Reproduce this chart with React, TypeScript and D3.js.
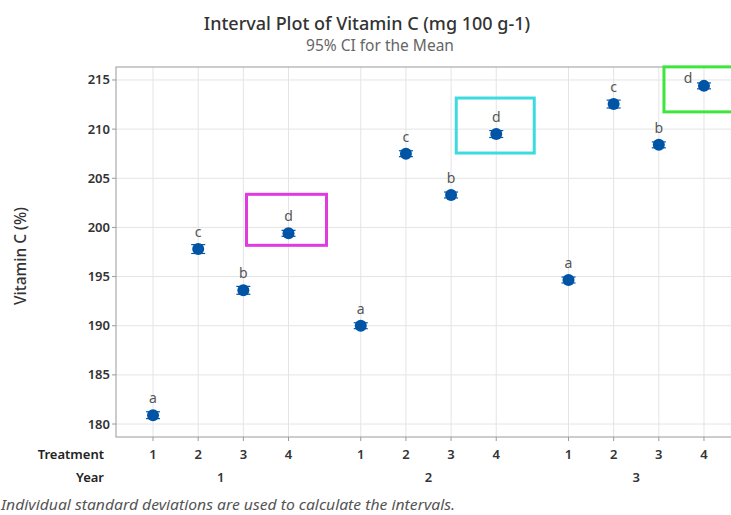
import React from "react";
import * as d3 from "d3";

const years = ["1", "2", "3"];
const treatments = ["1", "2", "3", "4"];
const means = [
  [180.9, 197.8, 193.6, 199.4],
  [190.0, 207.5, 203.3, 209.5],
  [194.65, 212.55, 208.4, 214.4],
];
const ciHalf = [
  [0.35, 0.45, 0.4, 0.3],
  [0.3, 0.3, 0.3, 0.35],
  [0.3, 0.4, 0.3, 0.3],
];
const letters = [
  ["a", "c", "b", "d"],
  ["a", "c", "b", "d"],
  ["a", "c", "b", "d"],
];
const yTicks = [180, 185, 190, 195, 200, 205, 210, 215];

const highlights = [
  { g: 0, t: 3, color: "#e03be0", dx0: -42, dx1: 38, dy0: -39, dy1: 12 },
  { g: 1, t: 3, color: "#3ddbe0", dx0: -40, dx1: 38, dy0: -36, dy1: 19 },
  { g: 2, t: 3, color: "#3de63d", dx0: -40, dx1: 34, dy0: -19, dy1: 26 },
];

const GAP = 4.6;
const FONT = "'Noto Sans', 'Open Sans', sans-serif";

export default function App() {
  const W = 731, H = 515;
  const left = 116, top = 67, bottom = 437, right = 741;
  const x = d3.scaleLinear().domain([-0.82, 2 * GAP + 3 + 0.82]).range([left, right]);
  const y = d3.scaleLinear().domain([178.68, 216.32]).range([bottom, top]);
  const pos = (g: number, t: number) => x(g * GAP + t);
  const blue = "#0054a6";

  return (
    <div style={{ position: "absolute", left: 0, top: 0 }}>
      <svg width={W} height={H} style={{ display: "block", fontFamily: FONT }}>
        <rect width={W} height={H} fill="#fff" />
        <text x={367} y={30} textAnchor="middle" fontSize={18} fill="#333" fontWeight={500}>
          Interval Plot of Vitamin C (mg 100 g-1)
        </text>
        <text x={380} y={51} textAnchor="middle" fontSize={15.5} fill="#666">
          95% CI for the Mean
        </text>
        {/* gridlines */}
        {yTicks.map((v) => (
          <line key={"gy" + v} x1={left} x2={right} y1={y(v)} y2={y(v)} stroke="#e4e4e4" />
        ))}
        {years.map((_, g) =>
          treatments.map((_, t) => (
            <line key={`gx${g}${t}`} x1={pos(g, t)} x2={pos(g, t)} y1={top} y2={bottom} stroke="#e4e4e4" />
          ))
        )}
        <rect x={left} y={top} width={right - left} height={bottom - top} fill="none" stroke="#9a9a9a" />
        {/* y axis */}
        {yTicks.map((v) => (
          <g key={"ty" + v}>
            <line x1={left - 4} x2={left} y1={y(v)} y2={y(v)} stroke="#9a9a9a" />
            <text x={left - 6} y={y(v) + 4.5} textAnchor="end" fontSize={13} fill="#333" fontWeight={600}>
              {v}
            </text>
          </g>
        ))}
        <text transform={`translate(26,${(top + bottom) / 2 + 4}) rotate(-90)`} textAnchor="middle" fontSize={15.5} fill="#333" fontWeight={500}>
          Vitamin C (%)
        </text>
        {/* x axis */}
        <text x={104} y={459} textAnchor="end" fontSize={13} fill="#222" fontWeight={600}>Treatment</text>
        <text x={104} y={482} textAnchor="end" fontSize={13} fill="#222" fontWeight={600}>Year</text>
        {years.map((yr, g) => (
          <g key={"yr" + yr}>
            {treatments.map((tr, t) => (
              <g key={tr}>
                <line x1={pos(g, t)} x2={pos(g, t)} y1={bottom} y2={bottom + 4} stroke="#9a9a9a" />
                <text x={pos(g, t)} y={459} textAnchor="middle" fontSize={13} fill="#333" fontWeight={600}>{tr}</text>
              </g>
            ))}
            <text x={(pos(g, 0) + pos(g, 3)) / 2} y={482} textAnchor="middle" fontSize={13} fill="#333" fontWeight={600}>{yr}</text>
          </g>
        ))}
        {/* data */}
        {means.map((row, g) =>
          row.map((m, t) => {
            const cx = pos(g, t);
            const lo = y(m - ciHalf[g][t]);
            const hi = y(m + ciHalf[g][t]);
            const edge = g === 2 && t === 3;
            return (
              <g key={`p${g}${t}`}>
                <line x1={cx} x2={cx} y1={lo} y2={hi} stroke={blue} strokeWidth={1.2} />
                <line x1={cx - 7} x2={cx + 7} y1={lo} y2={lo} stroke={blue} strokeWidth={1.2} />
                <line x1={cx - 7} x2={cx + 7} y1={hi} y2={hi} stroke={blue} strokeWidth={1.2} />
                <circle cx={cx} cy={y(m)} r={6} fill={blue} />
                <text x={edge ? cx - 16 : cx} y={edge ? y(m) - 3 : y(m) - 12} textAnchor="middle" fontSize={14} fill="#555">{letters[g][t]}</text>
              </g>
            );
          })
        )}
        {highlights.map((h, i) => {
          const cx = pos(h.g, h.t);
          const cy = y(means[h.g][h.t]);
          return (
            <rect key={"h" + i} x={cx + h.dx0} y={cy + h.dy0} width={h.dx1 - h.dx0} height={h.dy1 - h.dy0}
              fill="none" stroke={h.color} strokeWidth={3} />
          );
        })}
        <text x={1} y={510} fontSize={14} fontStyle="italic" fill="#555" textLength={454} lengthAdjust="spacingAndGlyphs">
          Individual standard deviations are used to calculate the intervals.
        </text>
      </svg>
    </div>
  );
}
